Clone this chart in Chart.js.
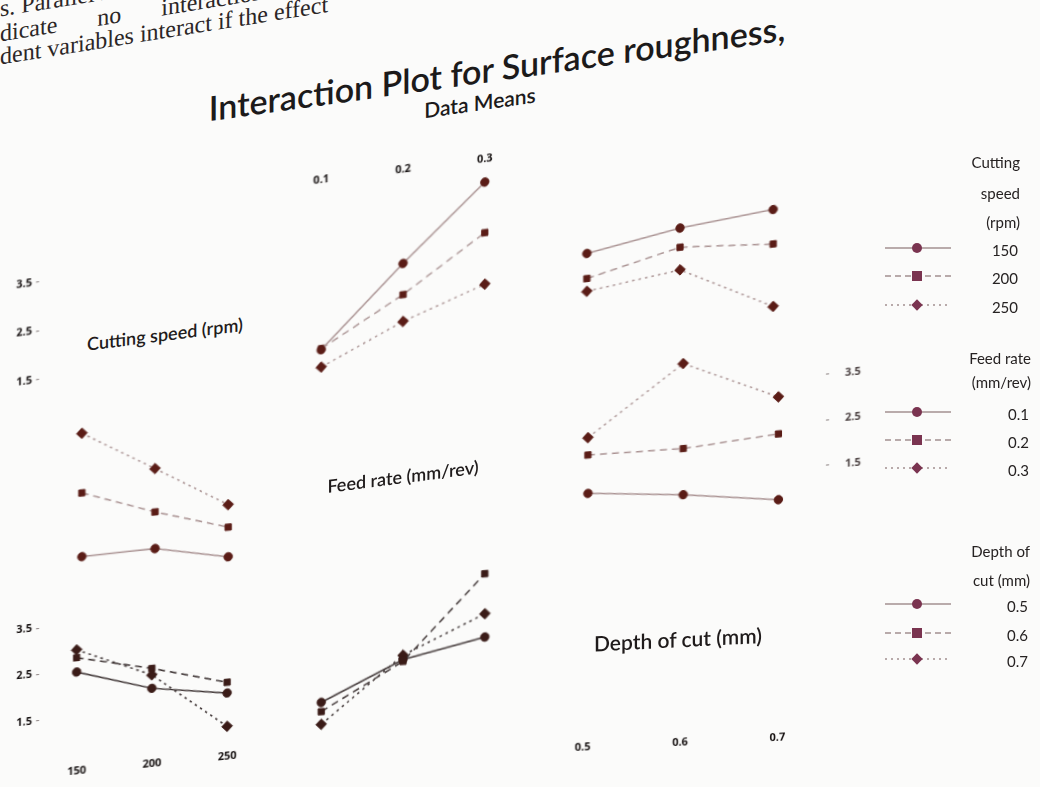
<!DOCTYPE html>
<html>
<head>
  <meta charset="UTF-8">
  <title>Interaction Plot for Surface roughness</title>
  <style type="text/css">
    html, body { margin: 0; padding: 0; }
    body { width: 1040px; height: 787px; overflow: hidden; position: relative;
           background: #fbfbfa; font-family: Lato, "Open Sans", sans-serif; color: #262222; }
    .layer { position: absolute; left: 0; top: 0; width: 1040px; height: 787px; }
    .box { position: absolute; }
    .mid { position: absolute; white-space: nowrap; transform: translate(-50%, -50%); }
    .rt { position: absolute; white-space: nowrap; transform: translate(-100%, -50%); }
    .page { position: absolute; white-space: nowrap; font-family: "Liberation Serif", serif;
            font-size: 24px; color: #2b2626; transform: translateY(-50%); }
  </style>
  <script src="https://cdn.jsdelivr.net/npm/chart.js@4.4.1/dist/chart.umd.min.js"></script>
</head>
<body>

<!-- bit of the book page above the figure -->
<div class="layer" style="transform-origin: 0px 0px; transform: skewY(-0.159rad);">
  <div class="page" style="left: 0px; top: 9px;">s. Parallel lines in-</div>
  <div class="page" style="left: 0px; top: 34px; word-spacing: 34px;">dicate no interaction</div>
  <div class="page" style="left: 0px; top: 57px;">dent variables interact if the effect</div>
</div>

<div class="layer" style="transform-origin: 0px 0px; transform: skewY(-0.139rad);">
  <div class="mid" style="left: 497px; top: 137px; font-size: 34px; font-weight: 600; color: #1c1a1a;">Interaction Plot for Surface roughness,</div>
  <div class="mid" style="left: 480px; top: 169px; font-size: 21px; font-weight: 600; color: #1c1a1a;">Data Means</div>
</div>

<script>
// factor levels
var csLevels = ['150', '200', '250'];
var frLevels = ['0.1', '0.2', '0.3'];
var docLevels = ['0.5', '0.6', '0.7'];
var yTicks = [1.5, 2.5, 3.5];

// mean surface roughness, rows = first factor levels, columns = second factor levels
var csByFr = [[1.22, 2.75, 4.18], [1.24, 2.12, 3.16], [0.87, 1.58, 2.12]];
var csByDoc = [[2.47, 2.78, 2.95], [1.96, 2.39, 2.25], [1.70, 1.93, 0.98]];
var frByDoc = [[1.34, 1.13, 0.84], [2.18, 2.14, 2.28], [2.56, 4.00, 3.09]];

function transpose(m) {
  return m[0].map(function (_, j) { return m.map(function (row) { return row[j]; }); });
}

var factors = [
  { name: 'Cutting speed (rpm)', title: ['Cutting', 'speed', '(rpm)'], levels: csLevels },
  { name: 'Feed rate (mm/rev)', title: ['Feed rate', '(mm/rev)'], levels: frLevels },
  { name: 'Depth of cut (mm)', title: ['Depth of', 'cut (mm)'], levels: docLevels }
];

// lines = levels of row factor, x = levels of column factor
var means = {
  '0,1': csByFr, '1,0': transpose(csByFr),
  '0,2': csByDoc, '2,0': transpose(csByDoc),
  '1,2': frByDoc, '2,1': transpose(frByDoc)
};

var Y_MIN = 0.6, Y_MAX = 4.4;
var shapes = ['circle', 'rect', 'rectRot'];
var radii = [4.2, 4.4, 5.3];
var dashes = [[], [7, 5], [2.5, 4]];
var tickFont = { family: 'Open Sans', size: 11, weight: 'bold' };

// where each panel sits in the photo (t = local tilt of the page)
var cells = [
  { r: 0, c: 0, L: 39,  W: 232, T: 238.4, H: 184.3, t: 0.128, yAxis: 'left', text: [165, 350, 18] },
  { r: 0, c: 1, L: 274, W: 258, T: 198.2, H: 193.8, t: 0.128, xAxis: 'top' },
  { r: 0, c: 2, L: 534, W: 292, T: 157.6, H: 199.5, t: 0.109 },
  { r: 1, c: 0, L: 39,  W: 232, T: 421.5, H: 171,   t: 0.099 },
  { r: 1, c: 1, L: 274, W: 258, T: 400,   H: 180,   t: 0.13, text: [403, 493, 18] },
  { r: 1, c: 2, L: 534, W: 292, T: 352,   H: 186.2, t: 0.087, yAxis: 'right' },
  { r: 2, c: 0, L: 39,  W: 232, T: 579.6, H: 182.4, t: 0.098, yAxis: 'left', xAxis: 'bottom' },
  { r: 2, c: 1, L: 274, W: 258, T: 565.1, H: 178.6, t: 0.072 },
  { r: 2, c: 2, L: 534, W: 292, T: 556.5, H: 180,   t: 0.05, xAxis: 'bottom', text: [678, 646, 21] }
];

// keep the plot area exactly the size of the box, whatever the tick labels need
function noPad(s) {
  s.paddingTop = 0; s.paddingBottom = 0; s.paddingLeft = 0; s.paddingRight = 0;
}

cells.forEach(function (cell) {
  var layer = document.createElement('div');
  layer.className = 'layer';
  layer.style.transformOrigin = cell.L + 'px 0px';
  layer.style.transform = 'skewY(' + (-Math.atan(cell.t)) + 'rad)';
  document.body.appendChild(layer);

  var diag = cell.r === cell.c;
  if (diag) {
    var lab = document.createElement('div');
    lab.className = 'mid';
    lab.style.left = cell.text[0] + 'px';
    lab.style.top = cell.text[1] + 'px';
    lab.style.fontSize = cell.text[2] + 'px';
    lab.style.fontWeight = '600';
    lab.style.color = '#1f1b1b';
    lab.textContent = factors[cell.r].name;
    layer.appendChild(lab);
    if (!cell.xAxis && !cell.yAxis) return;
  }

  var yW = cell.yAxis ? (cell.yAxis === 'left' ? 40 : 52) : 0;
  var xH = cell.xAxis ? 26 : 0;
  var box = document.createElement('div');
  box.className = 'box';
  box.style.left = (cell.L - (cell.yAxis === 'left' ? yW : 0)) + 'px';
  box.style.top = (cell.T - (cell.xAxis === 'top' ? xH : 0)) + 'px';
  box.style.width = (cell.W + yW) + 'px';
  box.style.height = (cell.H + xH) + 'px';
  var cv = document.createElement('canvas');
  box.appendChild(cv);
  layer.appendChild(box);

  var lineColor = cell.r === 2 ? '#3b3131' : '#ab9494';
  var markColor = cell.r === 2 ? '#3a1b17' : '#5a1c16';
  var datasets = [];
  if (!diag) {
    var m = means[cell.r + ',' + cell.c];
    factors[cell.r].levels.forEach(function (lev, k) {
      datasets.push({
        label: lev,
        data: m[k],
        borderColor: lineColor,
        borderWidth: 1.5,
        borderDash: dashes[k],
        pointStyle: shapes[k],
        pointRadius: radii[k],
        pointBackgroundColor: markColor,
        pointBorderColor: markColor,
        pointBorderWidth: 1,
        tension: 0,
        fill: false,
        clip: false
      });
    });
  }

  new Chart(cv, {
    type: 'line',
    data: { labels: factors[cell.c].levels, datasets: datasets },
    options: {
      responsive: true,
      maintainAspectRatio: false,
      animation: false,
      layout: { padding: 0 },
      plugins: { legend: { display: false }, tooltip: { enabled: false } },
      scales: {
        x: {
          type: 'category',
          offset: true,
          display: !!cell.xAxis,
          position: cell.xAxis === 'top' ? 'top' : 'bottom',
          grid: { display: false, drawTicks: false },
          border: { display: false },
          ticks: { font: tickFont, color: '#140f0f', padding: 6, maxRotation: 0 },
          afterFit: function (s) { s.height = xH; noPad(s); }
        },
        y: {
          type: 'linear',
          min: Y_MIN,
          max: Y_MAX,
          display: !!cell.yAxis,
          position: cell.yAxis === 'right' ? 'right' : 'left',
          grid: { display: true, drawOnChartArea: false, drawTicks: true, tickLength: 3, color: '#8a8080' },
          border: { display: false },
          afterBuildTicks: function (s) { s.ticks = yTicks.map(function (v) { return { value: v }; }); },
          ticks: {
            font: tickFont,
            color: cell.yAxis === 'right' ? '#4a4040' : '#140f0f',
            padding: cell.yAxis === 'right' ? 16 : 4,
            callback: function (v) { return Number(v).toFixed(1); }
          },
          afterFit: function (s) { s.width = yW; noPad(s); }
        }
      }
    }
  });
});

// legends on the right
var legendPos = [
  { right: 1020, titleY: [162, 193, 222], itemY: [250, 278, 307] },
  { right: 1031, titleY: [358, 382], itemY: [414, 442, 470] },
  { right: 1030, titleY: [551, 580], itemY: [606, 635, 661] }
];

function legendSymbol(k) {
  var dash = ['', '6,4', '2,4'][k];
  var shape = k === 0 ? '<circle cx="32" cy="7" r="5"/>'
    : k === 1 ? '<rect x="27" y="2" width="10" height="10"/>'
    : '<rect x="28" y="3" width="8" height="8" transform="rotate(45 32 7)"/>';
  return '<svg width="66" height="14"><line x1="0" y1="7" x2="66" y2="7" stroke="#a39090" ' +
    'stroke-width="1.3" stroke-dasharray="' + dash + '"/><g fill="#7a3450">' + shape + '</g></svg>';
}

factors.forEach(function (f, i) {
  var pos = legendPos[i];
  f.title.forEach(function (line, j) {
    var d = document.createElement('div');
    d.className = 'rt';
    d.style.left = pos.right + 'px';
    d.style.top = pos.titleY[j] + 'px';
    d.style.fontSize = '15px';
    d.textContent = line;
    document.body.appendChild(d);
  });
  f.levels.forEach(function (lev, k) {
    var d = document.createElement('div');
    d.className = 'rt';
    d.style.left = (pos.right - 2) + 'px';
    d.style.top = pos.itemY[k] + 'px';
    d.style.fontSize = '15px';
    d.textContent = lev;
    document.body.appendChild(d);
    var s = document.createElement('div');
    s.style.position = 'absolute';
    s.style.left = '885px';
    s.style.top = (pos.itemY[k] - 4 - 7) + 'px';
    s.innerHTML = legendSymbol(k);
    document.body.appendChild(s);
  });
});
</script>

</body>
</html>
